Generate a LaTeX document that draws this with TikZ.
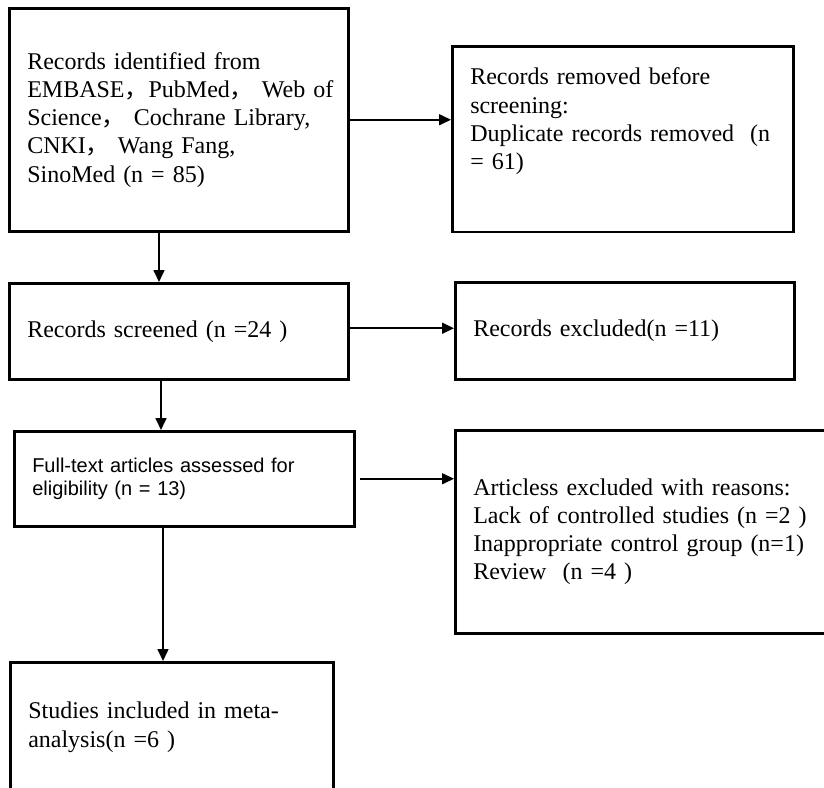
\documentclass[tikz,border=0pt]{standalone}
\usepackage{fontspec}
\setmainfont{Liberation Serif}
\newfontfamily\arialfont{Liberation Sans}
\newfontfamily\cjk{Noto Sans CJK SC}
\usetikzlibrary{arrows.meta}

\newcommand{\fwcomma}{{\cjk ，}}

\begin{document}
\begin{tikzpicture}[x=1pt,y=-1pt,
    box/.style={draw, line width=2.5pt, anchor=north west, inner xsep=18pt,
      inner ysep=0pt, align=left, font=\fontsize{24}{28.3}\selectfont},
    arr/.style={line width=1.6pt, -{Triangle[length=12pt,width=11pt]}}]

    \useasboundingbox (0,0) rectangle (824,787);

    % left column
    \node[box, text width=303pt, minimum height=223pt] (ident) at (8,7)
      {Records identified from\\ EMBASE\fwcomma PubMed\fwcomma~Web~of\\
       Science\fwcomma~Cochrane Library,\\ CNKI\fwcomma~Wang Fang,\\ SinoMed (n = 85)};
    \node[box, text width=303pt, minimum height=96pt] (screened) at (8,282)
      {Records screened (n =24 )};
    \node[box, text width=304pt, minimum height=95pt,
      font=\arialfont\fontsize{20}{23.5}\selectfont] (fulltext) at (13,430)
      {Full-text articles assessed for\\ eligibility (n = 13)};
    \node[box, text width=287pt, minimum height=130pt] (included) at (9,661)
      {Studies included in meta-\\ analysis(n =6 )};

    % right column
    \node[box, text width=305pt, inner ysep=21.6pt, text depth=125.4pt] (removed) at (451,45)
      {Records removed before\\ screening:\\ Duplicate records removed~~(n\\ = 61)};
    \node[box, text width=303pt, minimum height=97pt] (excluded) at (454,281)
      {Records excluded(n =11)};
    \node[box, text width=336pt, minimum height=203pt] (reasons) at (454,429)
      {Articless excluded with reasons:\\ Lack of controlled studies (n =2 )\\
       Inappropriate control group (n=1)\\ Review~~(n =4 )};

    \draw[arr] (ident.east) -- (ident.east -| removed.west);
    \draw[arr] ([xshift=151pt]ident.south west) -- ([xshift=151pt]ident.south west |- screened.north);
    \draw[arr] ([yshift=3pt]screened.east) -- ([yshift=3pt]screened.east -| excluded.west);
    \draw[arr] ([xshift=153pt]screened.south west) -- ([xshift=153pt]screened.south west |- fulltext.north);
    \draw[arr] ([xshift=4pt]fulltext.east) -- (fulltext.east -| reasons.west);
    \draw[arr] ([xshift=150pt]fulltext.south west) -- ([xshift=150pt]fulltext.south west |- included.north);

\end{tikzpicture}
\end{document}
